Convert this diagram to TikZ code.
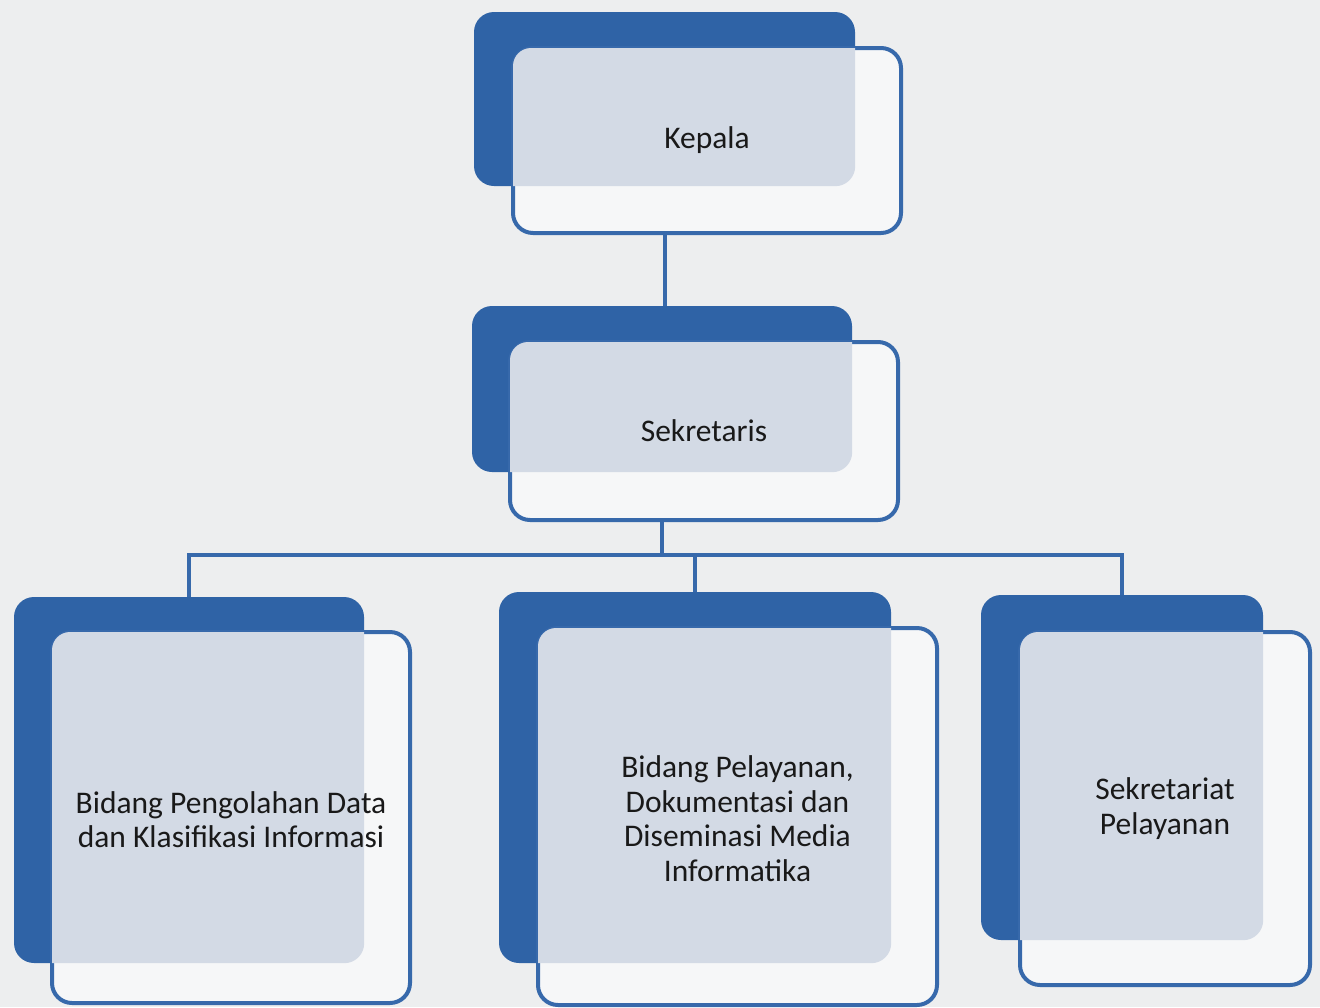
\documentclass[tikz,border=0pt]{standalone}
\usepackage{fontspec}
\setmainfont{Carlito}
\usetikzlibrary{fit,calc}
\definecolor{paper}{HTML}{EDEEEF}
\definecolor{darkblue}{HTML}{2F63A6}
\definecolor{edgeblue}{HTML}{3769AB}
\definecolor{overlapfill}{HTML}{D3DAE5}
\definecolor{frontfill}{HTML}{F6F7F8}
\tikzset{
  backbox/.style={fill=darkblue, draw=none, rounded corners=20pt, inner sep=0pt},
  frontbox/.style={fill=frontfill, draw=edgeblue, line width=4pt, rounded corners=20pt, inner sep=0pt},
  overlap/.style={fill=overlapfill},
  lbl/.style={align=center, text=black!90, font=\fontsize{31.5}{34.5}\selectfont, inner sep=0pt},
  conn/.style={draw=edgeblue, line width=4pt}
}
\newcommand{\overlapregion}[2]{%
  \coordinate (#1ovA) at ([shift={(2pt,-2pt)}]#1.north west);
  \coordinate (#1ovB) at (#2.south east);
  \fill[overlap] (#1ovA |- #1ovB) [rounded corners=18pt] -- (#1ovA) [sharp corners] -- (#1ovB |- #1ovA) [rounded corners=20pt] -- (#1ovB) [sharp corners] -- cycle;
}
\begin{document}
\begin{tikzpicture}[x=1pt,y=-1pt]
\fill[paper] (0,0) rectangle (1320,1007);
\useasboundingbox (0,0) rectangle (1320,1007);

\coordinate (bar) at (662,555);
\node[backbox, fit={(474,12) (855,186)}] (kb) {};
\node[backbox, fit={(472,306) (852,472)}] (sb) {};
\node[backbox, fit={(14,597) (364,963)}] (lb) {};
\node[backbox, fit={(499,592) (891,963)}] (mb) {};
\node[backbox, fit={(981,595) (1263,940)}] (rb) {};

\node[frontbox, fit={(513,48) (901,233)}] (kf) {};
\node[frontbox, fit={(510,342) (898,520)}] (sf) {};
\node[frontbox, fit={(52,632) (410,1003)}] (lf) {};
\node[frontbox, fit={(538,628) (937,1005)}] (mf) {};
\node[frontbox, fit={(1020,632) (1310,985)}] (rf) {};

\overlapregion{kf}{kb}
\overlapregion{sf}{sb}
\overlapregion{lf}{lb}
\overlapregion{mf}{mb}
\overlapregion{rf}{rb}

\draw[conn] (kb.south |- kf.south) -- (kb.south |- sb.north);
\draw[conn] (sb.south |- sf.south) -- (bar);
\draw[conn] (lb.north) -- (lb.north |- bar) -- (rb.north |- bar) -- (rb.north);
\draw[conn] (mb.north |- bar) -- (mb.north);

\node[lbl] (kt) at (kf.center) {Kepala};
\node[lbl] (st) at (sf.center) {Sekretaris};
\node[lbl] (lt) at ([yshift=-2pt]lf.center) {Bidang Pengolahan Data\\dan Klasifikasi Informasi};
\node[lbl] (mt) at ([yshift=-2pt]mf.center) {Bidang Pelayanan,\\Dokumentasi dan\\Diseminasi Media\\Informatika};
\node[lbl] (rt) at (rf.center) {Sekretariat\\Pelayanan};
\end{tikzpicture}
\end{document}
